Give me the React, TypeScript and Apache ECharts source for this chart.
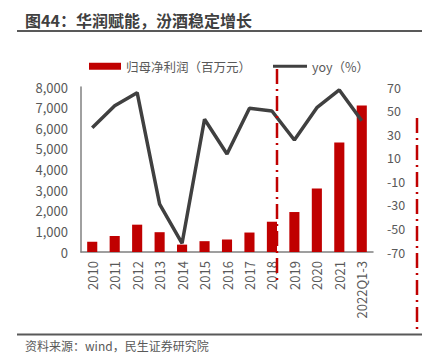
import React, { useEffect, useRef } from "react";
import * as echarts from "echarts";

const categories = ["2010", "2011", "2012", "2013", "2014", "2015", "2016", "2017", "2018", "2019", "2020", "2021", "2022Q1-3"];
const profit = [500, 780, 1325, 960, 358, 525, 606, 944, 1468, 1938, 3079, 5314, 7100];
const yoy = [35.5, 54, 65.2, -29.3, -62.6, 42.6, 13.2, 51.9, 49.6, 25, 52.4, 67.5, 41.4];
const titleText = "图44：华润赋能，汾酒稳定增长";
const sourceText = "资料来源：wind，民生证券研究院";
const barName = "归母净利润（百万元）";
const lineName = "yoy（%）";

const FONT = "'Noto Sans CJK SC', 'Noto Sans', sans-serif";
const GRAY = "#595959";
const RED = "#C00000";

export default function App() {
  const ref = useRef<HTMLDivElement>(null);
  useEffect(() => {
    if (!ref.current) return;
    const chart = echarts.init(ref.current, null, { renderer: "svg" });
    chart.setOption({
      animation: false,
      backgroundColor: "#ffffff",
      textStyle: { fontFamily: FONT },
      grid: { left: 81, right: 49, top: 87, bottom: 111, containLabel: false },
      legend: [
        {
          data: [{ name: barName, icon: "rect" }],
          left: 84,
          top: 55,
          itemWidth: 32,
          itemHeight: 7,
          textStyle: { fontSize: 12.5, color: GRAY, fontFamily: FONT },
        },
        {
          data: [{ name: lineName, icon: "rect" }],
          left: 268,
          top: 55,
          itemWidth: 34,
          itemHeight: 3,
          textStyle: { fontSize: 12.5, color: GRAY, fontFamily: FONT },
        },
      ],
      xAxis: {
        type: "category",
        data: categories,
        axisLine: { lineStyle: { color: "#808080", width: 1.5 } },
        axisTick: { show: false },
        axisLabel: { rotate: 90, fontSize: 13, color: GRAY, margin: 9, interval: 0, fontFamily: FONT },
      },
      yAxis: [
        {
          type: "value",
          min: 0,
          max: 8000,
          interval: 1000,
          splitLine: { show: false },
          axisLine: { show: true, lineStyle: { color: "#808080", width: 1.5 } },
          axisTick: { show: false },
          axisLabel: {
            fontSize: 13,
            color: GRAY,
            margin: 13,
            fontFamily: FONT,
            formatter: (v: number) => v.toLocaleString("en-US"),
          },
        },
        {
          type: "value",
          min: -70,
          max: 70,
          interval: 20,
          splitLine: { show: false },
          axisLine: { show: false },
          axisTick: { show: false },
          axisLabel: { fontSize: 12.5, color: GRAY, margin: 14, fontFamily: FONT },
        },
      ],
      series: [
        {
          name: barName,
          type: "bar",
          data: profit,
          barWidth: "45%",
          itemStyle: { color: RED },
        },
        {
          name: lineName,
          type: "line",
          yAxisIndex: 1,
          data: yoy,
          symbol: "none",
          lineStyle: { color: "#404040", width: 3.5 },
          itemStyle: { color: "#404040" },
        },
      ],
      graphic: [
        {
          type: "text",
          left: 25,
          top: 12,
          style: { text: titleText, fontSize: 16, fontWeight: "bold", fill: "#404040", fontFamily: FONT },
        },
        {
          type: "line",
          shape: { x1: 17, y1: 31, x2: 422, y2: 31 },
          style: { stroke: GRAY, lineWidth: 2 },
        },
        {
          type: "line",
          shape: { x1: 17, y1: 334.5, x2: 422, y2: 334.5 },
          style: { stroke: GRAY, lineWidth: 2 },
        },
        {
          type: "text",
          left: 25,
          top: 339,
          style: { text: sourceText, fontSize: 12, fill: GRAY, fontFamily: FONT },
        },
        {
          type: "line",
          shape: { x1: 277, y1: 69, x2: 277, y2: 285 },
          style: { stroke: RED, lineWidth: 2.5, lineDash: [15, 5, 2, 5] },
          z: 10,
        },
        {
          type: "line",
          shape: { x1: 417, y1: 118, x2: 417, y2: 330 },
          style: { stroke: RED, lineWidth: 2.5, lineDash: [15, 5, 2, 5] },
          z: 10,
        },
      ],
    });
    return () => chart.dispose();
  }, []);
  return (
    <div
      ref={ref}
      style={{ position: "fixed", left: 0, top: 0, width: 422, height: 363, background: "#fff" }}
    />
  );
}
